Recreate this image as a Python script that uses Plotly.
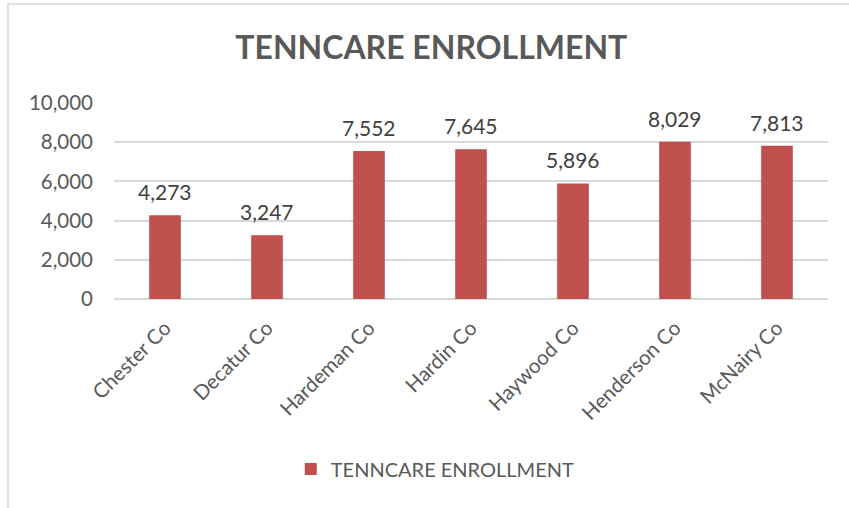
import plotly.graph_objects as go

counties = ["Chester Co", "Decatur Co", "Hardeman Co", "Hardin Co",
            "Haywood Co", "Henderson Co", "McNairy Co"]
enrollment = [4273, 3247, 7552, 7645, 5896, 8029, 7813]
y_ticks = [0, 2000, 4000, 6000, 8000, 10000]

font_name = "Lato"
grey = "#595959"

fig = go.Figure()
fig.add_trace(go.Bar(x=counties, y=enrollment, name="TENNCARE ENROLLMENT",
                     marker=dict(color="#c0504d", line=dict(width=0)),
                     width=0.31))

# value labels sit a bit higher than plotly's "outside" text, so use annotations
for c, v in zip(counties, enrollment):
    fig.add_annotation(x=c, y=v, text=f"{v:,}", showarrow=False,
                       yanchor="bottom", yshift=9,
                       font=dict(size=21, color="#404040", family=font_name))

fig.update_layout(
    width=849, height=508,
    paper_bgcolor="white", plot_bgcolor="white",
    margin=dict(l=114, r=21, t=103, b=209, autoexpand=False),
    font=dict(family=font_name, color=grey),
    title=dict(text="<b>TENNCARE ENROLLMENT</b>", x=0.508, xanchor="center",
               y=0.905, yanchor="middle",
               font=dict(size=32, color=grey, family=font_name)),
    showlegend=True,
    legend=dict(orientation="h", x=0.45, xanchor="center", y=-0.867,
                yanchor="middle", font=dict(size=20, color=grey)),
    shapes=[dict(type="rect", xref="paper", yref="paper",
                 x0=-0.1485, x1=1.2, y0=-2, y1=1.505,
                 line=dict(color="#d9d9d9", width=1.5), layer="below")],
)
fig.update_yaxes(range=[0, 10000], tickvals=y_ticks, tickformat=",",
                 showgrid=True, gridcolor="#d9d9d9", gridwidth=1.5,
                 zeroline=True, zerolinecolor="#d9d9d9", zerolinewidth=1.5,
                 tickfont=dict(size=20.5, color=grey), ticklabelstandoff=20,
                 automargin=False)
fig.update_xaxes(tickangle=-45, tickfont=dict(size=20.5, color=grey),
                 showline=False, ticklabelstandoff=12, automargin=False)

# page body has an 8px margin by default; drop it so the figure sits at 0,0
fig.write_html("out.html", config={"displayModeBar": False},
               post_script="document.body.style.margin='0px';")
